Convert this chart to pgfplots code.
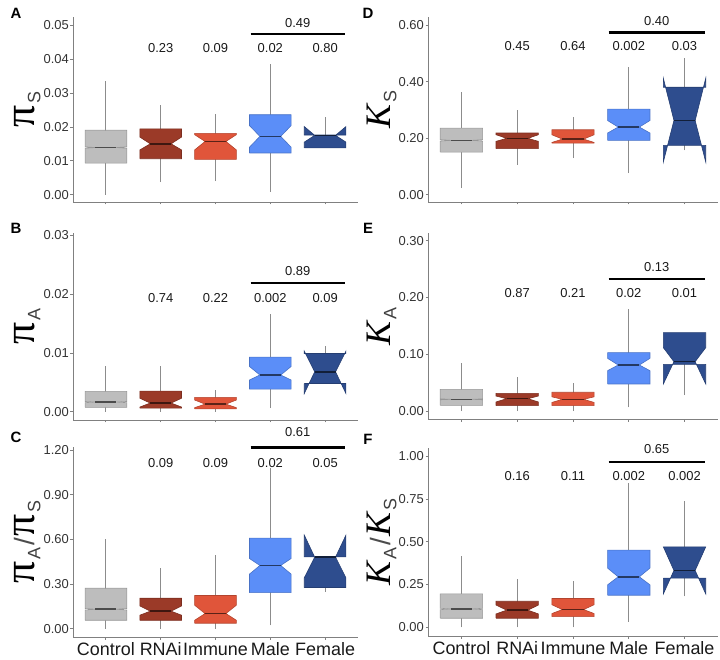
\documentclass[border=0pt]{standalone}
\usepackage{pgfplots}
\pgfplotsset{compat=1.18}
\usepackage{fontspec}
\setmainfont{Liberation Sans}
\newfontfamily\serifgr{Liberation Serif}

\definecolor{cCtrl}{HTML}{BDBDBD}
\definecolor{cRNAi}{HTML}{9B3A28}
\definecolor{cImm}{HTML}{E0553A}
\definecolor{cMale}{HTML}{5B8EF8}
\definecolor{cFem}{HTML}{2E4D8E}

\newcommand{\PI}{{\serifgr\fontsize{44}{44}\selectfont π}}
\newcommand{\KK}{{\serifgr\itshape\fontsize{36}{36}\selectfont K}}
\newcommand{\sub}[1]{\,\raisebox{-6bp}{\fontsize{18}{18}\selectfont\color{black!75}#1}}
\newcommand{\slashh}{\,{\fontsize{28}{28}\selectfont\color{black!70}/}\,}

% notched box: x, whisker low, q1, notch low, median, notch high, q3, whisker high, colour
\newcommand{\nbox}[9]{%
  \pgfmathsetmacro\xa{#1-0.38}%
  \pgfmathsetmacro\xb{#1+0.38}%
  \pgfmathsetmacro\xc{#1-0.19}%
  \pgfmathsetmacro\xd{#1+0.19}%
  \addplot[draw=black!45, line width=0.8bp] coordinates {(#1,#2) (#1,#8)};
  \addplot[draw=#9!80!black, fill=#9, line width=0.6bp] coordinates {(\xa,#3) (\xa,#4) (\xc,#5) (\xa,#6) (\xa,#7) (\xb,#7) (\xb,#6) (\xd,#5) (\xb,#4) (\xb,#3) (\xa,#3)};
  \addplot[draw=#9!40!black, line width=1.6bp] coordinates {(\xc,#5) (\xd,#5)};
}

\tikzset{pv/.style={font=\fontsize{13}{13}\selectfont, text=black!90},
  lett/.style={font=\bfseries\fontsize{15}{15}\selectfont}}

\pgfplotsset{
  panel/.style={
    scale only axis, anchor=south west, clip=false,
    axis x line*=bottom, axis y line*=left,
    axis line style={draw=black!50, line width=0.8bp},
    every outer x axis line/.append style={-},
    every outer y axis line/.append style={-},
    tick style={draw=black!50, line width=0.8bp},
    tick align=outside, major tick length=2.5bp,
    xmin=0.4, xmax=5.6, xtick={1,2,3,4,5}, xticklabels={},
    scaled y ticks=false,
    /pgf/number format/assume math mode=true,
    yticklabel style={font=\fontsize{13}{13}\selectfont, text=black!80, inner sep=1.5bp,
      /pgf/number format/fixed, /pgf/number format/fixed zerofill, /pgf/number format/precision=2},
    every axis y label/.style={at={(axis description cs:-0.16,0.5)}, rotate=90, anchor=center},
  },
  bottomrow/.style={xticklabels={Control,RNAi,Immune,Male,Female},
    xticklabel style={font=\fontsize{18}{18}\selectfont, text=black!90, inner sep=1bp, yshift=-2bp}},
}

\begin{document}
\begin{tikzpicture}
\useasboundingbox (0,0) rectangle (720bp,660bp);
\node[lett] at (16bp,647bp) {A};
\node[lett] at (16bp,432bp) {B};
\node[lett] at (16bp,223bp) {C};
\node[lett] at (368bp,647bp) {D};
\node[lett] at (368bp,432bp) {E};
\node[lett] at (368bp,221bp) {F};

% A
\begin{axis}[panel, at={(73bp,458bp)}, width=285bp, height=185bp,
  ymin=-0.0022, ymax=0.0525, ytick={0,0.01,0.02,0.03,0.04,0.05}, ylabel={\PI\sub{S}}]
\nbox{1}{0}{0.0093}{0.0137}{0.0139}{0.0141}{0.0190}{0.0336}{cCtrl}
\nbox{2}{0.0037}{0.0106}{0.0132}{0.0150}{0.0170}{0.0194}{0.0266}{cRNAi}
\nbox{3}{0.0040}{0.0104}{0.0132}{0.0157}{0.0177}{0.0181}{0.0238}{cImm}
\nbox{4}{0.0008}{0.0123}{0.0140}{0.0172}{0.0204}{0.0236}{0.0387}{cMale}
\nbox{5}{0.0138}{0.0138}{0.0155}{0.0175}{0.0201}{0.0176}{0.0230}{cFem}
\node[pv] at (axis cs:2,0.0434) {0.23};
\node[pv] at (axis cs:3,0.0434) {0.09};
\node[pv] at (axis cs:4,0.0434) {0.02};
\node[pv] at (axis cs:5,0.0434) {0.80};
\draw[line width=2.2bp] (axis cs:3.64,0.0475) -- (axis cs:5.36,0.0475);
\node[pv] at (axis cs:4.5,0.0508) {0.49};
\end{axis}

% B
\begin{axis}[panel, at={(73bp,240bp)}, width=285bp, height=187bp,
  ymin=-0.0014, ymax=0.0304, ytick={0,0.01,0.02,0.03}, ylabel={\PI\sub{A}}]
\nbox{1}{0}{0.00074}{0.00155}{0.00165}{0.00175}{0.00347}{0.00778}{cCtrl}
\nbox{2}{0}{0.00063}{0.0008}{0.00148}{0.0023}{0.00352}{0.0078}{cRNAi}
\nbox{3}{0}{0.0005}{0.0007}{0.0013}{0.0020}{0.00244}{0.0037}{cImm}
\nbox{4}{0.0006}{0.00386}{0.0054}{0.00625}{0.0077}{0.0093}{0.01665}{cMale}
\nbox{5}{0.0048}{0.0048}{0.0031}{0.0068}{0.0103}{0.0099}{0.0111}{cFem}
\node[pv] at (axis cs:2,0.0193) {0.74};
\node[pv] at (axis cs:3,0.0193) {0.22};
\node[pv] at (axis cs:4,0.0193) {0.002};
\node[pv] at (axis cs:5,0.0193) {0.09};
\draw[line width=2.2bp] (axis cs:3.64,0.0219) -- (axis cs:5.36,0.0219);
\node[pv] at (axis cs:4.5,0.0239) {0.89};
\end{axis}

% C
\begin{axis}[panel, bottomrow, at={(73bp,23bp)}, width=285bp, height=190bp,
  ymin=-0.0565, ymax=1.22, ytick={0,0.3,0.6,0.9,1.2}, ylabel={\PI\sub{A}\slashh\PI\sub{S}}]
\nbox{1}{0}{0.056}{0.125}{0.130}{0.135}{0.271}{0.599}{cCtrl}
\nbox{2}{0}{0.056}{0.090}{0.117}{0.152}{0.204}{0.408}{cRNAi}
\nbox{3}{0}{0.036}{0.056}{0.101}{0.157}{0.222}{0.4935}{cImm}
\nbox{4}{0.022}{0.242}{0.366}{0.424}{0.471}{0.608}{1.077}{cMale}
\nbox{5}{0.247}{0.276}{0.341}{0.480}{0.628}{0.482}{0.482}{cFem}
\node[pv] at (axis cs:2,1.115) {0.09};
\node[pv] at (axis cs:3,1.115) {0.09};
\node[pv] at (axis cs:4,1.115) {0.02};
\node[pv] at (axis cs:5,1.115) {0.05};
\draw[line width=2.2bp] (axis cs:3.64,1.217) -- (axis cs:5.36,1.217);
\node[pv] at (axis cs:4.5,1.32) {0.61};
\end{axis}

% D
\begin{axis}[panel, at={(428bp,458bp)}, width=290bp, height=185bp,
  ymin=-0.026, ymax=0.63, ytick={0,0.2,0.4,0.6}, ylabel={\KK\sub{S}}]
\nbox{1}{0.0236}{0.151}{0.190}{0.1925}{0.195}{0.236}{0.3626}{cCtrl}
\nbox{2}{0.106}{0.163}{0.189}{0.1996}{0.2126}{0.2185}{0.301}{cRNAi}
\nbox{3}{0.130}{0.183}{0.185}{0.197}{0.2126}{0.230}{0.274}{cImm}
\nbox{4}{0.0768}{0.1925}{0.2185}{0.2397}{0.263}{0.3035}{0.452}{cMale}
\nbox{5}{0.157}{0.175}{0.116}{0.263}{0.413}{0.381}{0.484}{cFem}
\node[pv] at (axis cs:2,0.5256) {0.45};
\node[pv] at (axis cs:3,0.5256) {0.64};
\node[pv] at (axis cs:4,0.5256) {0.002};
\node[pv] at (axis cs:5,0.5256) {0.03};
\draw[line width=2.2bp] (axis cs:3.64,0.575) -- (axis cs:5.36,0.575);
\node[pv] at (axis cs:4.5,0.614) {0.40};
\end{axis}

% E
\begin{axis}[panel, at={(428bp,240.7bp)}, width=290bp, height=186bp,
  ymin=-0.0146, ymax=0.313, ytick={0,0.1,0.2,0.3}, ylabel={\KK\sub{A}}]
\nbox{1}{0}{0.010}{0.0198}{0.0206}{0.0214}{0.038}{0.084}{cCtrl}
\nbox{2}{0}{0.0094}{0.0159}{0.0217}{0.0264}{0.031}{0.0605}{cRNAi}
\nbox{3}{0}{0.0094}{0.015}{0.0206}{0.025}{0.033}{0.050}{cImm}
\nbox{4}{0.0065}{0.0476}{0.071}{0.081}{0.0928}{0.1028}{0.179}{cMale}
\nbox{5}{0.028}{0.0822}{0.0476}{0.0869}{0.1116}{0.138}{0.138}{cFem}
\node[pv] at (axis cs:2,0.2073) {0.87};
\node[pv] at (axis cs:3,0.2073) {0.21};
\node[pv] at (axis cs:4,0.2073) {0.02};
\node[pv] at (axis cs:5,0.2073) {0.01};
\draw[line width=2.2bp] (axis cs:3.64,0.2325) -- (axis cs:5.36,0.2325);
\node[pv] at (axis cs:4.5,0.253) {0.13};
\end{axis}

% F
\begin{axis}[panel, bottomrow, at={(428bp,24bp)}, width=290bp, height=188bp,
  ymin=-0.051, ymax=1.048, ytick={0,0.25,0.5,0.75,1}, ylabel={\KK\sub{A}\slashh\KK\sub{S}}]
\nbox{1}{0}{0.053}{0.103}{0.107}{0.111}{0.195}{0.414}{cCtrl}
\nbox{2}{0}{0.053}{0.078}{0.100}{0.130}{0.152}{0.281}{cRNAi}
\nbox{3}{0}{0.0625}{0.080}{0.1035}{0.132}{0.168}{0.273}{cImm}
\nbox{4}{0.033}{0.1875}{0.248}{0.295}{0.346}{0.451}{0.844}{cMale}
\nbox{5}{0.18}{0.287}{0.195}{0.332}{0.470}{0.470}{0.736}{cFem}
\node[pv] at (axis cs:2,0.883) {0.16};
\node[pv] at (axis cs:3,0.883) {0.11};
\node[pv] at (axis cs:4,0.883) {0.002};
\node[pv] at (axis cs:5,0.883) {0.002};
\draw[line width=2.2bp] (axis cs:3.64,0.967) -- (axis cs:5.36,0.967);
\node[pv] at (axis cs:4.5,1.039) {0.65};
\end{axis}
\end{tikzpicture}
\end{document}
